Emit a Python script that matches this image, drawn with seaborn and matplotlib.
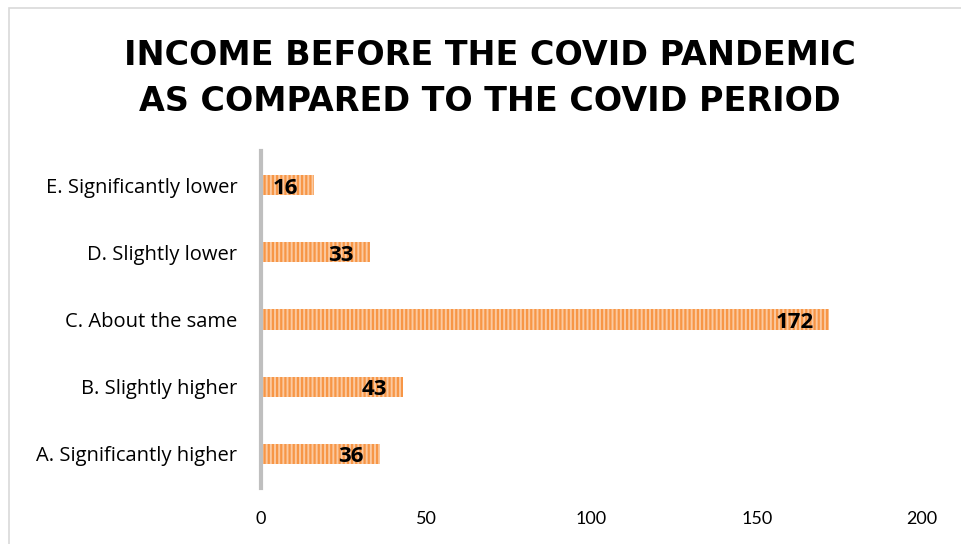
import matplotlib
matplotlib.use("Agg")
import matplotlib.pyplot as plt
import seaborn as sns
import pandas as pd
from matplotlib.patches import Rectangle

categories = ["E. Significantly lower", "D. Slightly lower", "C. About the same",
              "B. Slightly higher", "A. Significantly higher"]
counts = [16, 33, 172, 43, 36]
x_ticks = [0, 50, 100, 150, 200]
title = "INCOME BEFORE THE COVID PANDEMIC\nAS COMPARED TO THE COVID PERIOD"

df = pd.DataFrame({"answer": categories, "count": counts})

sns.set_style("white")
plt.rcParams["font.family"] = ["Lato", "DejaVu Sans"]
plt.rcParams["hatch.linewidth"] = 1.6

fig = plt.figure(figsize=(9.62, 5.44), dpi=100)
# outer chart frame
fig.patches.append(Rectangle((9 / 962, -0.1), 1.2, 1 - 8 / 544 + 0.1,
                             transform=fig.transFigure, fill=False,
                             edgecolor="#D9D9D9", linewidth=1.2))

ax = fig.add_axes([261 / 962, 0.1037, (922 - 261) / 962, 0.7217 - 0.1037])
sns.barplot(data=df, x="count", y="answer", ax=ax, width=0.3,
            color="#FBC9A0", saturation=1)
for bar in ax.patches:
    bar.set_hatch("||||")
    bar.set_edgecolor("#F79646")
    bar.set_linewidth(0)

for bar, v in zip(ax.patches, counts):
    ax.annotate(str(v), (bar.get_width(), bar.get_y() + bar.get_height() / 2),
                xytext=(-16, -3), textcoords="offset pixels", ha="right", va="center",
                fontsize=16, fontweight="bold", color="black",
                family=["Open Sans", "DejaVu Sans"])

ax.set_xlim(0, 200)
ax.set_xticks(x_ticks)
ax.set_xlabel("")
ax.set_ylabel("")
ax.tick_params(axis="x", length=0, pad=17, labelsize=13, labelcolor="black")
ax.tick_params(axis="y", length=0, pad=17, labelsize=13, labelcolor="black")
for lbl in ax.get_yticklabels():
    lbl.set_fontfamily(["Open Sans", "DejaVu Sans"])
    lbl.set_fontsize(14.5)
for s in ["top", "right", "bottom"]:
    ax.spines[s].set_visible(False)
ax.spines["left"].set_color("#BFBFBF")
ax.spines["left"].set_linewidth(3)

fig.text(0.509, 0.856, title, ha="center", va="center", fontsize=24,
         fontweight="bold", family=["DejaVu Sans"],
         linespacing=1.52, color="black")

fig.savefig("out.png", dpi=100)
